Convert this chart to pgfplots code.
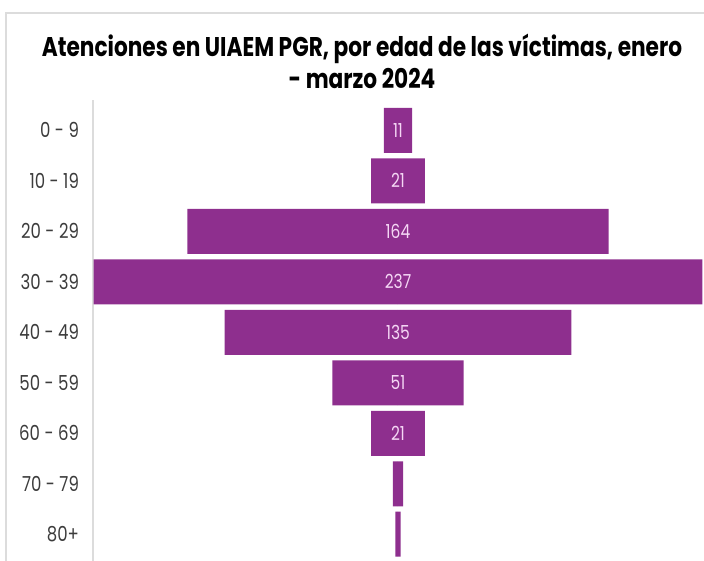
\documentclass[border=0pt]{standalone}
\usepackage{fontspec}
\setmainfont{Poppins}[FakeStretch=0.8]
\newfontfamily\titlefont{Poppins}[FakeStretch=0.8]
\usepackage{pgfplots}
\usepackage{pgfplotstable}
\pgfplotsset{compat=1.18}
\definecolor{barpurple}{RGB}{142,47,142}
\definecolor{labpink}{RGB}{245,215,245}
\definecolor{framegray}{RGB}{220,220,220}
\definecolor{tickgray}{RGB}{60,60,60}
\pgfplotstableread{
y v
0 11
1 21
2 164
3 237
4 135
5 51
6 21
7 4
8 2
}\agedata
\begin{document}
\begin{tikzpicture}
\useasboundingbox (0,0) rectangle (528pt,420.75pt);
\draw[framegray, line width=0.8pt] (4.5pt,0) -- (4.5pt,411pt) -- (528pt,411pt);
\node[font=\titlefont\bfseries\fontsize{20.3}{24}\selectfont, align=center, text=black] at (271.5pt,375pt)
  {Atenciones en UIAEM PGR, por edad de las víctimas, enero\\- marzo 2024};
\begin{axis}[
  at={(69.75pt,0pt)}, anchor=south west,
  scale only axis,
  width=458.25pt, height=345.75pt,
  xmin=-118.7, xmax=119.1,
  ymin=-0.6, ymax=8.53,
  y dir=reverse,
  hide x axis,
  axis y line*=left,
  y axis line style={framegray, line width=0.8pt, -},
  ytick={0,...,8},
  yticklabels={0 - 9, 10 - 19, 20 - 29, 30 - 39, 40 - 49, 50 - 59, 60 - 69, 70 - 79, 80+},
  yticklabel style={font=\fontsize{15.5}{17}\selectfont, text=tickgray, anchor=east, xshift=-7pt},
  major tick length=0pt,
  xbar, bar width=33.75pt, bar shift=0pt,
  clip=false,
]
\addplot[fill=barpurple, draw=none] table[x expr=\thisrow{v}/2, y=y] {\agedata};
\addplot[fill=barpurple, draw=none] table[x expr=-\thisrow{v}/2, y=y] {\agedata};
\addplot[draw=none, mark=none, xbar=false, nodes near coords, point meta=explicit symbolic,
  nodes near coords style={anchor=center, text=labpink, font=\fontsize{14.5}{16}\selectfont}]
  coordinates {(0,0)[11] (0,1)[21] (0,2)[164] (0,3)[237] (0,4)[135] (0,5)[51] (0,6)[21]};
\end{axis}
\end{tikzpicture}
\end{document}
